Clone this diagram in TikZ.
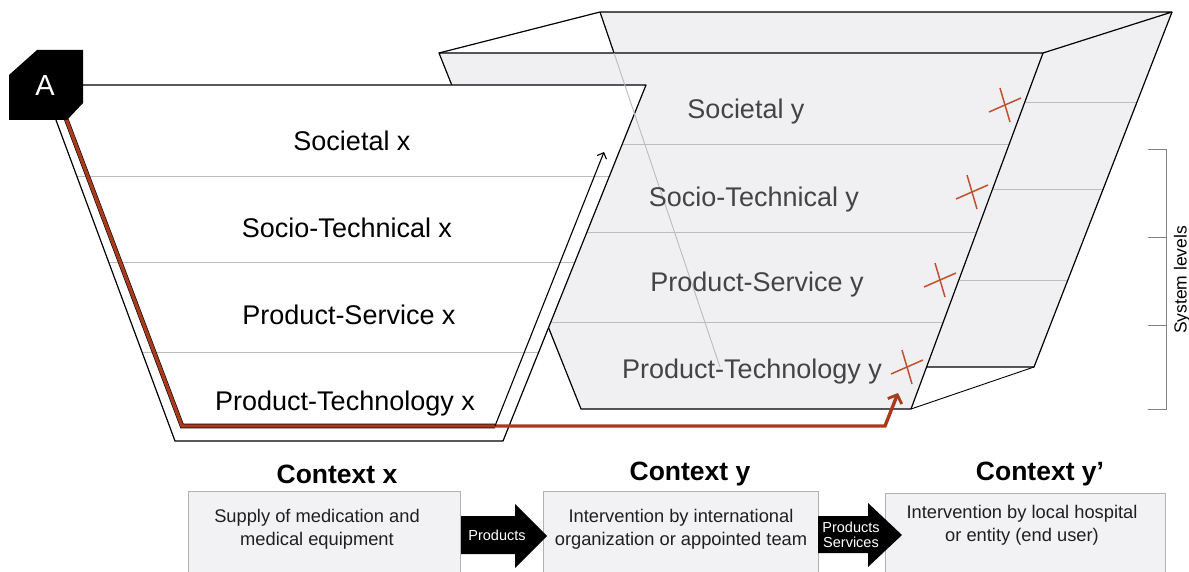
\documentclass[tikz,border=0pt]{standalone}
\usepackage{fontspec}
\setmainfont{Liberation Sans}
\usetikzlibrary{arrows.meta}
\definecolor{facegray}{RGB}{240,240,242}
\definecolor{levelgray}{RGB}{188,188,188}
\definecolor{rust}{RGB}{168,58,30}
\definecolor{xmark}{RGB}{192,80,48}
\definecolor{labgray}{RGB}{68,68,68}
\definecolor{boxgray}{RGB}{242,242,244}
\definecolor{boxedge}{RGB}{178,178,178}
\definecolor{bracketgray}{RGB}{130,130,130}
\begin{document}
\begin{tikzpicture}[x=1pt,y=-1pt,
  edge/.style={draw=black, line width=1.2pt, line join=round},
  level/.style={draw=levelgray, line width=1pt},
  lvx/.style={font=\fontsize{27}{32}\selectfont, text=black, inner sep=0pt},
  lvy/.style={font=\fontsize{27}{32}\selectfont, text=labgray, inner sep=0pt},
  ctx/.style={font=\fontsize{26.5}{30}\selectfont\bfseries, inner sep=0pt},
  boxtxt/.style={font=\fontsize{18.3}{23}\selectfont, align=center, inner sep=0pt, text=black!88},
  arrtxt/.style={font=\fontsize{14.5}{15.5}\selectfont, text=white, align=center, inner sep=0pt},
  ctxbox/.style={draw=boxedge, fill=boxgray, line width=1pt, anchor=north west, inner sep=0pt},
  blockarrow/.style={fill=black},
  sysline/.style={draw=bracketgray, line width=1pt},
  redpath/.style={draw=rust, line width=3.4pt, line join=miter},
  xm/.style={draw=xmark, line width=1.5pt},
  xcross/.pic={\draw[xm] (-16,7) -- (16,-7); \draw[xm] (-5,-17) -- (5,17);}
]
\useasboundingbox (0,0) rectangle (1189,572);

% ---------- right 3D box ----------
\coordinate (BTL) at (600,12);
\coordinate (BTR) at (1172,12);
\coordinate (BBR) at (1034,367);
\coordinate (BBL) at (720,367);
\coordinate (FTL) at (439,53);
\coordinate (FTR) at (1043,53);
\coordinate (FBR) at (911,409);
\coordinate (FBL) at (581,409);
\fill[facegray] (BTL) -- (BTR) -- (BBR) -- (BBL) -- cycle;
\fill[facegray] (FTL) -- (FTR) -- (FBR) -- (FBL) -- cycle;
% level lines, front face
\draw[level] (476,145) -- (1009,145);
\draw[level] (511,233) -- (976,233);
\draw[level] (546,322) -- (943,322);
% level lines, side (back) part
\draw[level] (1024.5,103) -- (1136.6,103);
\draw[level] (992.9,190) -- (1102.8,190);
\draw[level] (959.5,280) -- (1067.8,280);
% edges
\draw[edge] (FTL) -- (BTL) -- (BTR) -- (FTR);
\draw[edge] (BTL) -- (614,53);
\draw[edge] (BTR) -- (BBR) -- (927,367);
\draw[edge, line width=0.9pt] (FBR) -- (BBR);
\draw[edge] (FTL) -- (FTR) -- (FBR) -- (FBL) -- cycle;

% ---------- left trapezoid ----------
\coordinate (LTL) at (43,85);
\coordinate (LTR) at (646,85);
\coordinate (LBR) at (503,441);
\coordinate (LBL) at (175,441);
\fill[white] (LTL) -- (LTR) -- (LBR) -- (LBL) -- cycle;
\draw[level] (77,177) -- (609,177);
\draw[level] (109,263) -- (574.5,263);
\draw[level] (142,352) -- (538.7,352);
\draw[edge] (LTL) -- (LTR) -- (LBR) -- (LBL) -- cycle;
% see-through back edge
\draw[level, line width=0.9pt] (614,53) -- (BBL);

% inner path
\coordinate (P0) at (62,108);
\coordinate (P1) at (182,426);
\coordinate (P2) at (495,426);
\coordinate (P3) at (885,426);
\coordinate (P4) at (898,393);
\coordinate (P5) at (604,152);
\draw[black, line width=4.6pt, line join=miter] (P0) -- (P1) -- (P2);
\draw[redpath, -{Straight Barb[length=7pt,width=15pt,line width=2.8pt]}] (P0) -- (P1) -- (P3) -- (P4);
\draw[black, line width=1.1pt, -{Straight Barb[length=5pt,width=10pt,line width=1.1pt]}] (P2) -- (P5);

% crosses
\pic at (1005,105) {xcross};
\pic at (972,192) {xcross};
\pic at (940,280) {xcross};
\pic at (907,367) {xcross};

% badge
\fill[black] (9,75) -- (37,50) -- (83,50) -- (83,103) -- (67,120) -- (9,120) -- cycle;
\node[font=\fontsize{29}{30}\selectfont, text=white, inner sep=0pt] (A) at (45,86) {A};

% level labels
\node[lvx] (sx) at (352,141) {Societal x};
\node[lvx] (stx) at (347,228) {Socio-Technical x};
\node[lvx] (psx) at (349,315) {Product-Service x};
\node[lvx] (ptx) at (345,404) {Product-Technology x};
\node[lvy] (sy) at (746,112) {Societal y};
\node[lvy] (sty) at (754,200) {Socio-Technical y};
\node[lvy] (psy) at (757,285) {Product-Service y};
\node[lvy] (pty) at (752,372) {Product-Technology y};

% system levels bracket
\draw[sysline] (1148,150) -- (1166,150) -- (1166,409) -- (1148,409);
\draw[sysline] (1148,238) -- (1166,238);
\draw[sysline] (1148,325) -- (1166,325);
\node[rotate=90, font=\fontsize{17.5}{19}\selectfont, inner sep=0pt] (sl) at (1182,280) {System levels};

% ---------- contexts ----------
\node[ctx] (cx) at (337,474) {Context x};
\node[ctx] (cy) at (690,474) {Context y};
\node[ctx] (cyp) at (1040,474) {Context y’};
\node[ctxbox, minimum width=272pt, minimum height=100pt] (b1) at (188,491) {};
\node[ctxbox, minimum width=275pt, minimum height=100pt] (b2) at (543,491) {};
\node[ctxbox, minimum width=280pt, minimum height=100pt] (b3) at (885,493) {};
\node[boxtxt] (t1) at (317,529) {Supply of medication and\\medical equipment};
\node[boxtxt] (t2) at (681,529) {Intervention by international\\organization or appointed team};
\node[boxtxt] (t3) at (1022,525) {Intervention by local hospital\\or entity (end user)};

\fill[blockarrow] (461,516) -- (515,516) -- (515,504) -- (547,536) -- (515,568) -- (515,554) -- (461,554) -- cycle;
\node[arrtxt] (pa) at (497,535) {Products};
\fill[blockarrow] (818,516) -- (868,516) -- (868,503) -- (902,535) -- (868,567) -- (868,553) -- (818,553) -- cycle;
\node[arrtxt] (pb) at (851,535) {Products\\Services};
\end{tikzpicture}
\end{document}
